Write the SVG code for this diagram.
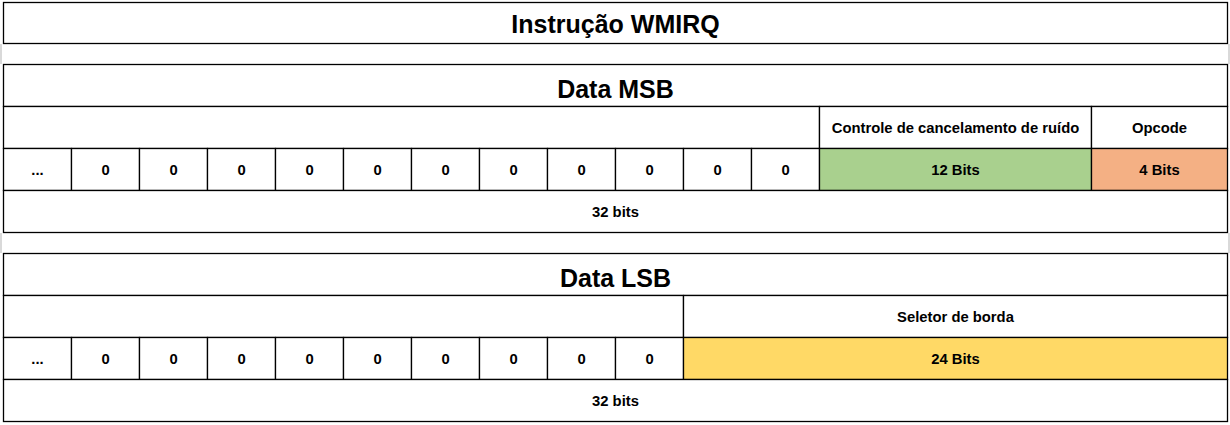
<svg xmlns="http://www.w3.org/2000/svg" width="1230" height="425" viewBox="0 0 1230 425">
<style>
.c{fill:#ffffff;stroke:#000000;stroke-width:1.3}
.g{fill:#A9D08E;stroke:#000000;stroke-width:1.3}
.o{fill:#F4B084;stroke:#000000;stroke-width:1.3}
.y{fill:#FFD966;stroke:#000000;stroke-width:1.3}
text{font-family:"Liberation Sans",Arial,sans-serif;font-weight:bold;fill:#000000;text-anchor:middle}
.s{font-size:14.8px}
.h{font-size:25px}
.grid{stroke:#d9d9d9;stroke-width:2}
</style>
<rect x="0" y="0" width="1230" height="425" fill="#ffffff"/>
<g id="gridlines">
<line class="grid" x1="1" y1="44" x2="1" y2="64"/>
<line class="grid" x1="1" y1="233" x2="1" y2="253"/>
<line class="grid" x1="1229" y1="44" x2="1229" y2="64"/>
<line class="grid" x1="1229" y1="233" x2="1229" y2="253"/>
</g>
<g id="title">
<rect class="c" x="3.5" y="2.5" width="1224" height="41"/>
<text class="h" x="615.5" y="33">Instrução WMIRQ</text>
</g>
<g id="msb">
<g id="msb-header"><rect class="c" x="3.5" y="64.5" width="1224" height="42"/><text class="h" x="615.5" y="97.5">Data MSB</text></g>
<g id="msb-blank"><rect class="c" x="3.5" y="106.5" width="816" height="42"/></g>
<g id="msb-ctrl-label"><rect class="c" x="819.5" y="106.5" width="272" height="42"/><text class="s" x="955.5" y="132.5">Controle de cancelamento de ruído</text></g>
<g id="msb-opcode-label"><rect class="c" x="1091.5" y="106.5" width="136" height="42"/><text class="s" x="1159.5" y="132.5">Opcode</text></g>
<g id="msb-dots"><rect class="c" x="3.5" y="148.5" width="68" height="42"/><text class="s" x="37.5" y="174.5">...</text></g>
<g id="msb-b1"><rect class="c" x="71.5" y="148.5" width="68" height="42"/><text class="s" x="105.5" y="174.5">0</text></g>
<g id="msb-b2"><rect class="c" x="139.5" y="148.5" width="68" height="42"/><text class="s" x="173.5" y="174.5">0</text></g>
<g id="msb-b3"><rect class="c" x="207.5" y="148.5" width="68" height="42"/><text class="s" x="241.5" y="174.5">0</text></g>
<g id="msb-b4"><rect class="c" x="275.5" y="148.5" width="68" height="42"/><text class="s" x="309.5" y="174.5">0</text></g>
<g id="msb-b5"><rect class="c" x="343.5" y="148.5" width="68" height="42"/><text class="s" x="377.5" y="174.5">0</text></g>
<g id="msb-b6"><rect class="c" x="411.5" y="148.5" width="68" height="42"/><text class="s" x="445.5" y="174.5">0</text></g>
<g id="msb-b7"><rect class="c" x="479.5" y="148.5" width="68" height="42"/><text class="s" x="513.5" y="174.5">0</text></g>
<g id="msb-b8"><rect class="c" x="547.5" y="148.5" width="68" height="42"/><text class="s" x="581.5" y="174.5">0</text></g>
<g id="msb-b9"><rect class="c" x="615.5" y="148.5" width="68" height="42"/><text class="s" x="649.5" y="174.5">0</text></g>
<g id="msb-b10"><rect class="c" x="683.5" y="148.5" width="68" height="42"/><text class="s" x="717.5" y="174.5">0</text></g>
<g id="msb-b11"><rect class="c" x="751.5" y="148.5" width="68" height="42"/><text class="s" x="785.5" y="174.5">0</text></g>
<g id="msb-ctrl"><rect class="g" x="819.5" y="148.5" width="272" height="42"/><text class="s" x="955.5" y="174.5">12 Bits</text></g>
<g id="msb-opcode"><rect class="o" x="1091.5" y="148.5" width="136" height="42"/><text class="s" x="1159.5" y="174.5">4 Bits</text></g>
<g id="msb-total"><rect class="c" x="3.5" y="190.5" width="1224" height="42"/><text class="s" x="615.5" y="216.5">32 bits</text></g>
</g>
<g id="lsb">
<g id="lsb-header"><rect class="c" x="3.5" y="253.5" width="1224" height="42"/><text class="h" x="615.5" y="286.5">Data LSB</text></g>
<g id="lsb-blank"><rect class="c" x="3.5" y="295.5" width="680" height="42"/></g>
<g id="lsb-sel-label"><rect class="c" x="683.5" y="295.5" width="544" height="42"/><text class="s" x="955.5" y="321.5">Seletor de borda</text></g>
<g id="lsb-dots"><rect class="c" x="3.5" y="337.5" width="68" height="42"/><text class="s" x="37.5" y="363.5">...</text></g>
<g id="lsb-b1"><rect class="c" x="71.5" y="337.5" width="68" height="42"/><text class="s" x="105.5" y="363.5">0</text></g>
<g id="lsb-b2"><rect class="c" x="139.5" y="337.5" width="68" height="42"/><text class="s" x="173.5" y="363.5">0</text></g>
<g id="lsb-b3"><rect class="c" x="207.5" y="337.5" width="68" height="42"/><text class="s" x="241.5" y="363.5">0</text></g>
<g id="lsb-b4"><rect class="c" x="275.5" y="337.5" width="68" height="42"/><text class="s" x="309.5" y="363.5">0</text></g>
<g id="lsb-b5"><rect class="c" x="343.5" y="337.5" width="68" height="42"/><text class="s" x="377.5" y="363.5">0</text></g>
<g id="lsb-b6"><rect class="c" x="411.5" y="337.5" width="68" height="42"/><text class="s" x="445.5" y="363.5">0</text></g>
<g id="lsb-b7"><rect class="c" x="479.5" y="337.5" width="68" height="42"/><text class="s" x="513.5" y="363.5">0</text></g>
<g id="lsb-b8"><rect class="c" x="547.5" y="337.5" width="68" height="42"/><text class="s" x="581.5" y="363.5">0</text></g>
<g id="lsb-b9"><rect class="c" x="615.5" y="337.5" width="68" height="42"/><text class="s" x="649.5" y="363.5">0</text></g>
<g id="lsb-sel"><rect class="y" x="683.5" y="337.5" width="544" height="42"/><text class="s" x="955.5" y="363.5">24 Bits</text></g>
<g id="lsb-total"><rect class="c" x="3.5" y="379.5" width="1224" height="42"/><text class="s" x="615.5" y="405.5">32 bits</text></g>
</g>
<g id="connectors"/>
</svg>
